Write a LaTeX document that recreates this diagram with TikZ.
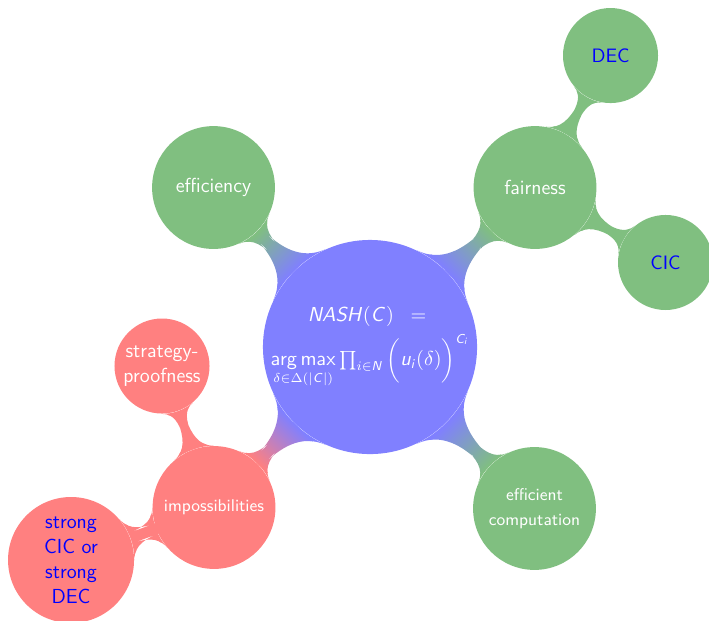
\documentclass[tikz,border=0pt]{standalone}
\usetikzlibrary{mindmap}
\DeclareMathAlphabet{\mathsfit}{OT1}{cmss}{m}{sl}
\colorlet{cblue}{blue!50}
\colorlet{cgreen}{green!50!black!50}
\colorlet{cred}{red!50}
\pgfdeclarelayer{background}
\pgfsetlayers{background,main}
\begin{document}
\begin{tikzpicture}[
  cbase/.style={circle, inner sep=0pt, align=center, text=white, font=\sffamily},
  lvlzero/.style={cbase, fill=cblue, minimum size=4cm, font=\sffamily\fontsize{10.5}{13}\selectfont},
  lvlone/.style={cbase, minimum size=2.34cm, font=\sffamily\fontsize{11}{13.5}\selectfont},
  lvlonesmall/.style={lvlone, font=\sffamily\fontsize{9.2}{13.5}\selectfont},
  lvltwo/.style={cbase, minimum size=1.81cm, font=\sffamily\fontsize{10.5}{13.5}\selectfont},
  lvltwobig/.style={lvltwo, font=\sffamily\fontsize{11}{13.5}\selectfont},
  gfill/.style={fill=cgreen},
  rfill/.style={fill=cred},
  bluetext/.style={text=blue},
  bgconn/.style={circle connection bar switch color=from (#1)}
]
\useasboundingbox (-7.048,-5.2) rectangle (6.457,6.610);

\node[lvlzero] (root) at (0,0)
  {$\mathsfit{NASH}(\mathsfit{C})\;\;=\;$\\[3pt]
   $\mathop{\mathsf{arg\,max}}\limits_{\delta\in\Delta(|\mathsfit{C}|)}\prod_{i\in\mathsfit{N}}\bigg(\mathsfit{u}_{\mathsfit{i}}(\delta)\bigg)^{\mathsfit{C}_{\mathsfit{i}}}$};

\node[lvlone, gfill] (eff) at (-2.981,3.038) {efficiency};
\node[lvlone, gfill] (fair) at (3.143,3.038) {fairness};
\node[lvlonesmall, gfill] (comp) at (3.133,-3.076) {efficient\\computation};
\node[lvlonesmall, rfill] (imp) at (-2.971,-3.057) {impossibilities};

\node[lvltwo, gfill, bluetext] (dec) at (4.581,5.552) {DEC};
\node[lvltwo, gfill, bluetext] (cic) at (5.629,1.610) {CIC};
\node[lvltwobig, rfill] (sp) at (-3.962,-0.362) {strategy-\\proofness};
\node[lvltwobig, rfill, bluetext, minimum size=2.4cm] (strong) at (-5.695,-4.057) {strong\\CIC or\\strong\\DEC};

\begin{pgfonlayer}{background}
\path (root) to[circle connection bar switch color=from (cblue) to (cgreen)] (eff);
\path (root) to[circle connection bar switch color=from (cblue) to (cgreen)] (fair);
\path (root) to[circle connection bar switch color=from (cblue) to (cgreen)] (comp);
\path (root) to[circle connection bar switch color=from (cblue) to (cred)] (imp);
\path (fair) to[circle connection bar switch color=from (cgreen) to (cgreen)] (dec);
\path (fair) to[circle connection bar switch color=from (cgreen) to (cgreen)] (cic);
\path (imp) to[circle connection bar switch color=from (cred) to (cred)] (sp);
\path (imp) to[circle connection bar switch color=from (cred) to (cred)] (strong);
\end{pgfonlayer}
\end{tikzpicture}
\end{document}
